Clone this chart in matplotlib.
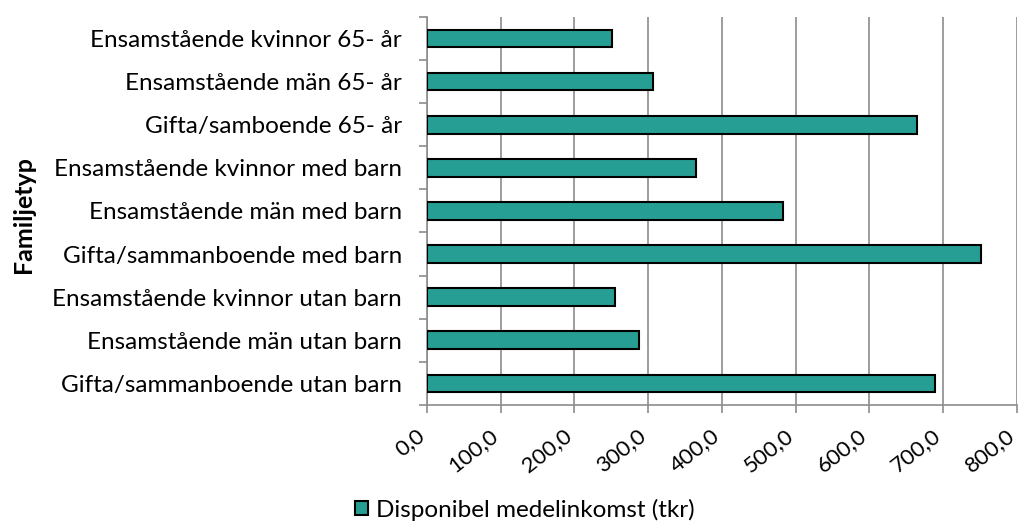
import numpy as np
import matplotlib.pyplot as plt
import matplotlib.transforms as mtransforms
from matplotlib.ticker import FuncFormatter, FixedLocator

# ================= data =================

CATEGORIES = [
    "Ensamstående kvinnor 65- år",
    "Ensamstående män 65- år",
    "Gifta/samboende 65- år",
    "Ensamstående kvinnor med barn",
    "Ensamstående män med barn",
    "Gifta/sammanboende med barn",
    "Ensamstående kvinnor utan barn",
    "Ensamstående män utan barn",
    "Gifta/sammanboende utan barn",
]
VALUES = [251, 307, 665, 365, 483, 751, 255, 287, 689]
SERIES_NAME = "Disponibel medelinkomst (tkr)"
X_TICKS = [0, 100, 200, 300, 400, 500, 600, 700, 800]

BAR_COLOR = "#279E93"
GRID_COLOR = "#8C8C8C"

plt.rcParams["font.family"] = ["Lato", "DejaVu Sans"]

fig = plt.figure(figsize=(10.19, 5.28), dpi=100)
ax = fig.add_axes([0.419, 0.233, 0.579, 0.735])

y = np.arange(len(CATEGORIES))
ax.barh(y, VALUES, height=0.41, color=BAR_COLOR, edgecolor="black",
        linewidth=1.5, label=SERIES_NAME, zorder=3)

ax.set_ylim(len(CATEGORIES) - 0.5, -0.5)
ax.set_xlim(0, 800)

ax.set_yticks(y)
ax.set_yticklabels(CATEGORIES, fontsize=17.5)
ax.yaxis.set_minor_locator(FixedLocator(np.arange(-0.5, len(CATEGORIES), 1)))
ax.tick_params(axis="y", which="major", length=0, pad=18)
ax.tick_params(axis="y", which="minor", length=6, color=GRID_COLOR, width=1.2)

ax.set_xticks(X_TICKS)
ax.xaxis.set_major_formatter(FuncFormatter(lambda v, p: f"{v:.1f}".replace(".", ",")))
ax.tick_params(axis="x", length=6, color=GRID_COLOR, width=1.2, labelsize=16, pad=14)
shift = mtransforms.ScaledTranslation(-0.05, 0, fig.dpi_scale_trans)
for lbl in ax.get_xticklabels():
    lbl.set_rotation(38)
    lbl.set_ha("right")
    lbl.set_va("center")
    lbl.set_rotation_mode("anchor")
    lbl.set_transform(lbl.get_transform() + shift)

ax.grid(axis="x", color=GRID_COLOR, linewidth=1.2, zorder=0)
for side in ["top", "right"]:
    ax.spines[side].set_visible(False)
for side in ["left", "bottom"]:
    ax.spines[side].set_color(GRID_COLOR)
    ax.spines[side].set_linewidth(1.2)

fig.text(0.012, 0.594, "Familjetyp", rotation=90, fontsize=18, fontweight="bold",
         ha="left", va="center")

fig.legend(loc="center", bbox_to_anchor=(0.515, 0.035), frameon=False, fontsize=17.5,
           handlelength=0.55, handleheight=0.55, handletextpad=0.35, borderpad=0)

fig.savefig("out.png", dpi=100)
